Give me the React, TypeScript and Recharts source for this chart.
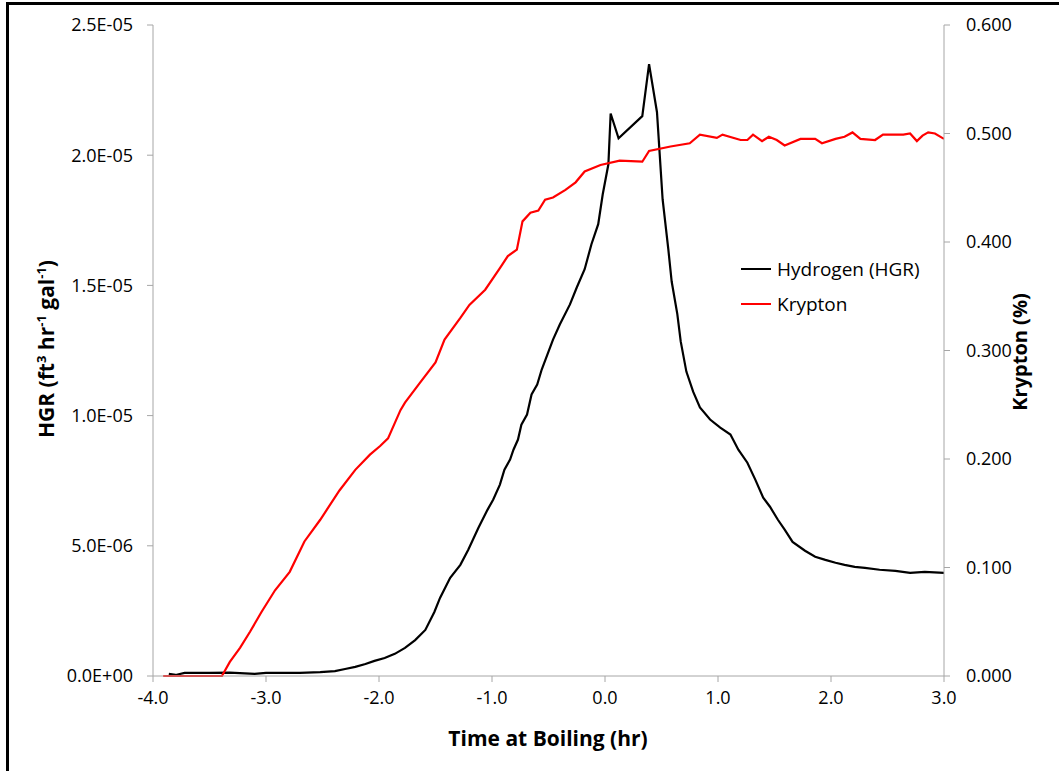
import { Line, LineChart, XAxis, YAxis } from 'recharts'

// hours relative to boiling, HGR in 1e-6 ft3/hr/gal
const h2Time = [
  -3.86, -3.8, -3.72, -3.5, -3.32, -3.1, -3.0, -2.7, -2.52, -2.39, -2.3, -2.21, -2.12, -2.04,
  -1.95, -1.86, -1.77, -1.68, -1.59, -1.51, -1.46, -1.37, -1.28, -1.21, -1.12, -1.04, -0.99,
  -0.93, -0.89, -0.84, -0.81, -0.77, -0.74, -0.69, -0.65, -0.6, -0.56, -0.46, -0.4, -0.31,
  -0.25, -0.18, -0.12, -0.06, -0.02, 0.03, 0.05, 0.12, 0.33, 0.39, 0.46, 0.51, 0.56, 0.59,
  0.64, 0.67, 0.72, 0.78, 0.84, 0.93, 1.02, 1.11, 1.18, 1.26, 1.33, 1.4, 1.46, 1.53, 1.59,
  1.66, 1.77, 1.86, 1.95, 2.04, 2.12, 2.21, 2.3, 2.43, 2.57, 2.7, 2.83, 3.0,
]
const h2Rate = [
  0.08, 0.04, 0.12, 0.12, 0.13, 0.08, 0.12, 0.12, 0.15, 0.19, 0.27, 0.35, 0.46, 0.58,
  0.69, 0.85, 1.08, 1.38, 1.77, 2.46, 3.0, 3.77, 4.27, 4.85, 5.69, 6.38, 6.77,
  7.35, 7.92, 8.31, 8.69, 9.08, 9.65, 10.04, 10.81, 11.19, 11.77, 12.92, 13.5, 14.27,
  14.92, 15.62, 16.58, 17.35, 18.5, 19.65, 21.6, 20.65, 21.5, 23.5, 21.65, 18.3, 16.4, 15.15,
  13.9, 12.85, 11.69, 10.92, 10.31, 9.85, 9.54, 9.27, 8.69, 8.19, 7.54, 6.85, 6.5, 6.0, 5.62,
  5.15, 4.81, 4.58, 4.46, 4.35, 4.27, 4.19, 4.15, 4.08, 4.04, 3.96, 4.0, 3.96,
]

// krypton in %
const krTime = [
  -3.91, -3.39, -3.32, -3.23, -3.14, -3.04, -2.92, -2.79, -2.66, -2.52, -2.35, -2.21, -2.08,
  -1.99, -1.92, -1.81, -1.77, -1.64, -1.5, -1.42, -1.28, -1.2, -1.06, -0.93, -0.86, -0.78,
  -0.73, -0.66, -0.59, -0.53, -0.46, -0.35, -0.26, -0.18, -0.04, 0.13, 0.33, 0.39, 0.58,
  0.75, 0.84, 0.99, 1.04, 1.2, 1.26, 1.31, 1.39, 1.45, 1.52, 1.59, 1.73, 1.86, 1.92, 2.04,
  2.12, 2.19, 2.26, 2.39, 2.46, 2.64, 2.7, 2.76, 2.81, 2.86, 2.92, 3.0,
]
const krPct = [
  0, 0, 0.013, 0.026, 0.041, 0.059, 0.079, 0.096, 0.124, 0.144, 0.171, 0.19, 0.204,
  0.212, 0.219, 0.245, 0.252, 0.27, 0.289, 0.31, 0.33, 0.342, 0.356, 0.376, 0.387, 0.393,
  0.419, 0.427, 0.429, 0.439, 0.441, 0.448, 0.455, 0.465, 0.471, 0.475, 0.474, 0.484, 0.488,
  0.491, 0.499, 0.496, 0.499, 0.494, 0.494, 0.499, 0.493, 0.497, 0.494, 0.489, 0.495, 0.495, 0.491, 0.495,
  0.497, 0.501, 0.495, 0.494, 0.499, 0.499, 0.5, 0.493, 0.498, 0.501, 0.5, 0.495,
]

const xTicks = [-4, -3, -2, -1, 0, 1, 2, 3]
const leftTicks = [0, 5e-6, 1e-5, 1.5e-5, 2e-5, 2.5e-5]
const rightTicks = [0, 0.1, 0.2, 0.3, 0.4, 0.5, 0.6]

const hydrogen = h2Time.map((t, i) => ({ t, hgr: h2Rate[i] * 1e-6 }))
const krypton = krTime.map((t, i) => ({ t, kr: krPct[i] }))

const font = '"Open Sans", Lato, sans-serif'
const axisGray = '#a6a6a6'
const tickStyle = { fill: '#000', fontSize: 18, fontFamily: font }

const sci = (v: number) =>
  v.toExponential(1).replace(/e([+-])(\d)$/, 'E$10$2').toUpperCase()

const boldLabel = {
  position: 'absolute' as const,
  whiteSpace: 'nowrap' as const,
  fontFamily: font,
  fontSize: 21,
  fontWeight: 'bold' as const,
  color: '#000',
}

export default function App() {
  const legendRow = (color: string, text: string) => (
    <div style={{ display: 'flex', alignItems: 'center', height: 35 }}>
      <span style={{ width: 30, height: 2, background: color, marginRight: 6 }} />
      <span>{text}</span>
    </div>
  )
  return (
    <div
      style={{
        position: 'absolute',
        left: 0,
        top: 0,
        width: 1059,
        height: 771,
        overflow: 'hidden',
        background: '#fff',
      }}
    >
      <div
        style={{
          position: 'absolute',
          left: 6,
          top: 2,
          width: 1100,
          height: 800,
          border: '3px solid #000',
        }}
      />
      <LineChart
        width={1059}
        height={771}
        margin={{ top: 25, right: 35, left: 73, bottom: 65 }}
        style={{ position: 'absolute', left: 0, top: 0 }}
      >
        <XAxis
          type="number"
          dataKey="t"
          domain={[-4, 3]}
          ticks={xTicks}
          tickFormatter={(v: number) => v.toFixed(1)}
          tick={tickStyle}
          tickSize={6}
          tickMargin={9}
          axisLine={{ stroke: axisGray }}
          tickLine={{ stroke: axisGray }}
          height={30}
          allowDataOverflow
        />
        <YAxis
          yAxisId="left"
          domain={[0, 2.5e-5]}
          ticks={leftTicks}
          tickFormatter={sci}
          tick={tickStyle}
          tickSize={6}
          tickMargin={14}
          axisLine={{ stroke: axisGray }}
          tickLine={{ stroke: axisGray }}
          width={80}
        />
        <YAxis
          yAxisId="right"
          orientation="right"
          domain={[0, 0.6]}
          ticks={rightTicks}
          tickFormatter={(v: number) => v.toFixed(3)}
          tick={{ ...tickStyle, textAnchor: 'start' }}
          tickSize={6}
          tickMargin={16}
          axisLine={{ stroke: axisGray }}
          tickLine={{ stroke: axisGray }}
          width={80}
        />
        <Line
          yAxisId="left"
          data={hydrogen}
          dataKey="hgr"
          name="Hydrogen (HGR)"
          type="linear"
          stroke="#000"
          strokeWidth={2.2}
          dot={false}
          isAnimationActive={false}
        />
        <Line
          yAxisId="right"
          data={krypton}
          dataKey="kr"
          name="Krypton"
          type="linear"
          stroke="#ff0000"
          strokeWidth={2.2}
          dot={false}
          isAnimationActive={false}
        />
      </LineChart>
      <div
        style={{
          position: 'absolute',
          left: 741,
          top: 251,
          fontFamily: font,
          fontSize: 19,
          color: '#000',
        }}
      >
        {legendRow('#000', 'Hydrogen (HGR)')}
        {legendRow('#ff0000', 'Krypton')}
      </div>
      <div style={{ ...boldLabel, left: 46, top: 349, transform: 'translate(-50%, -50%) rotate(-90deg)' }}>
        HGR (ft<sup style={{ fontSize: 13 }}>3</sup> hr<sup style={{ fontSize: 13 }}>-1</sup> gal
        <sup style={{ fontSize: 13 }}>-1</sup>)
      </div>
      <div
        style={{
          ...boldLabel,
          fontSize: 20,
          lineHeight: '22px',
          left: 1020,
          top: 352,
          transform: 'translate(-50%, -50%) rotate(-90deg)',
        }}
      >
        Krypton (%)
      </div>
      <div style={{ ...boldLabel, left: 548, top: 738, transform: 'translate(-50%, -50%)' }}>
        Time at Boiling (hr)
      </div>
    </div>
  )
}
